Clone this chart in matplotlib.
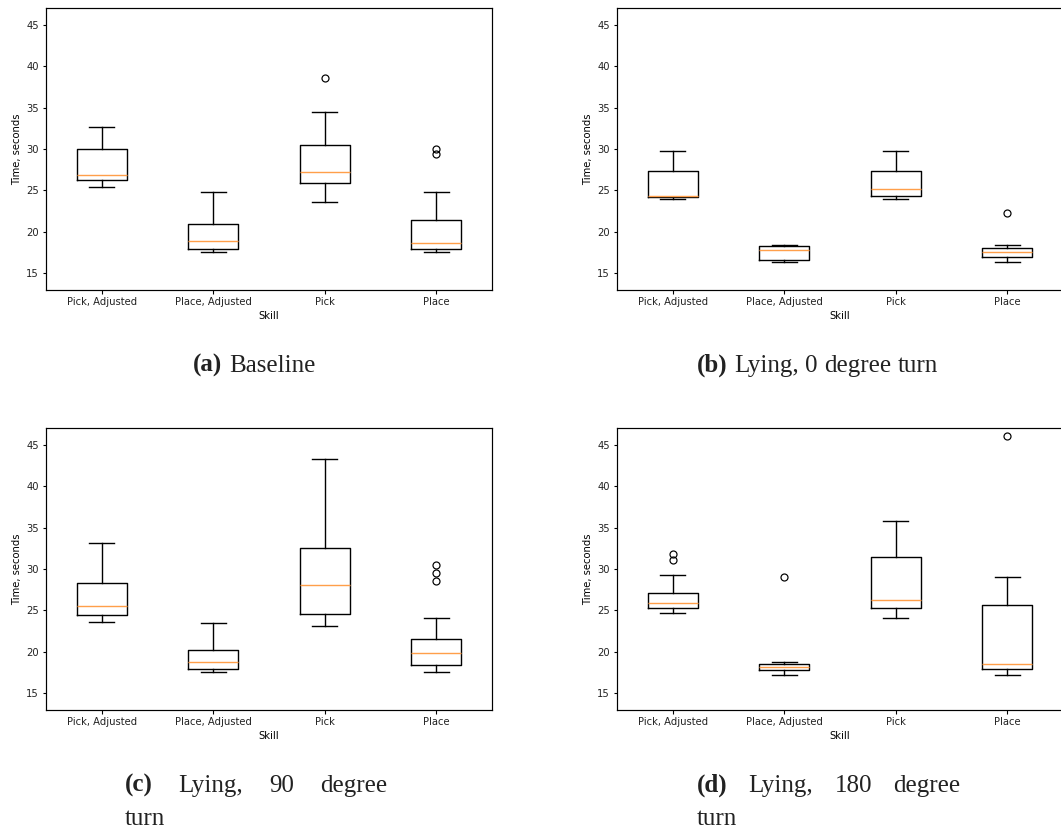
import matplotlib
matplotlib.use('Agg')
import matplotlib.pyplot as plt
from matplotlib.transforms import IdentityTransform

W, H = 1061, 831

skills = ['Pick, Adjusted', 'Place, Adjusted', 'Pick', 'Place']

# (a) Baseline
a_whislo = [25.39, 17.54, 23.54, 17.54]
a_q1 = [26.24, 17.98, 25.91, 17.90]
a_med = [26.88, 18.95, 27.20, 18.62]
a_q3 = [30.02, 20.92, 30.47, 21.40]
a_whishi = [32.64, 24.75, 34.49, 24.75]
a_fliers = [[], [], [38.52], [30.02, 29.42]]

# (b) Lying, 0 degree turn
b_whislo = [23.94, 16.33, 23.94, 16.33]
b_q1 = [24.22, 16.65, 24.30, 16.93]
b_med = [24.38, 17.86, 25.19, 17.58]
b_q3 = [27.28, 18.26, 27.28, 18.02]
b_whishi = [29.78, 18.46, 29.78, 18.46]
b_fliers = [[], [], [], [22.25]]

# (c) Lying, 90 degree turn
c_whislo = [23.58, 17.54, 23.10, 17.54]
c_q1 = [24.46, 17.94, 24.55, 18.38]
c_med = [25.55, 18.83, 28.05, 19.87]
c_q3 = [28.25, 20.28, 32.52, 21.56]
c_whishi = [33.08, 23.42, 43.27, 24.14]
c_fliers = [[], [], [], [30.5, 29.5, 28.6]]

# (d) Lying, 180 degree turn
d_whislo = [24.63, 17.17, 24.14, 17.17]
d_q1 = [25.31, 17.78, 25.27, 17.94]
d_med = [25.87, 18.18, 26.24, 18.54]
d_q3 = [27.12, 18.58, 31.39, 25.71]
d_whishi = [29.26, 18.79, 35.78, 28.97]
d_fliers = [[31.75, 31.07], [28.97], [], [46.05]]


def make_stats(whislo, q1, med, q3, whishi, fliers):
    stats = []
    for i in range(len(skills)):
        stats.append({'label': skills[i], 'whislo': whislo[i], 'q1': q1[i],
                      'med': med[i], 'q3': q3[i], 'whishi': whishi[i],
                      'fliers': fliers[i]})
    return stats


plt.rcParams['axes.linewidth'] = 1.2
plt.rcParams['xtick.major.width'] = 1.1
plt.rcParams['ytick.major.width'] = 1.1
plt.rcParams['text.color'] = '#222222'
plt.rcParams['xtick.labelcolor'] = '#222222'
plt.rcParams['ytick.labelcolor'] = '#222222'

fig = plt.figure(figsize=(W / 72, H / 72), dpi=72)

lw = 1.4


def panel(left, top, stats):
    ax = fig.add_axes([left / W, 1 - (top + 282) / H, 446 / W, 282 / H])
    ax.bxp(stats,
           boxprops=dict(linewidth=lw),
           whiskerprops=dict(linewidth=lw),
           capprops=dict(linewidth=lw),
           medianprops=dict(linewidth=lw, color='#ff9f4a'),
           flierprops=dict(markeredgewidth=1.2, markersize=7))
    ax.set_xlim(0.5, 4.5)
    ax.set_ylim(12.98, 47.01)
    ax.set_xlabel('Skill')
    ax.set_ylabel('Time, seconds')
    return ax


panel(46, 8, make_stats(a_whislo, a_q1, a_med, a_q3, a_whishi, a_fliers))
panel(617, 8, make_stats(b_whislo, b_q1, b_med, b_q3, b_whishi, b_fliers))
panel(46, 428, make_stats(c_whislo, c_q1, c_med, c_q3, c_whishi, c_fliers))
panel(617, 428, make_stats(d_whislo, d_q1, d_med, d_q3, d_whishi, d_fliers))

renderer = fig.canvas.get_renderer()
serif = 'Liberation Serif'
csize = 25


def caption(x, y, tag, words, right=None):
    # y is the baseline in image pixels (from the top)
    items = []
    t = fig.text(x, H - y, tag, transform=IdentityTransform(), family=serif,
                 fontweight='bold', fontsize=csize, va='baseline')
    items.append(t)
    for w in words:
        items.append(fig.text(x, H - y, w, transform=IdentityTransform(),
                              family=serif, fontsize=csize, va='baseline'))
    widths = [it.get_window_extent(renderer).width for it in items]
    if right is None:
        gap = csize * 0.26
    else:
        gap = (right - x - sum(widths)) / (len(items) - 1)
    cur = x
    for it, w in zip(items, widths):
        it.set_x(cur)
        cur += w + gap


def plain(x, y, s):
    fig.text(x, H - y, s, transform=IdentityTransform(), family=serif,
             fontsize=csize, va='baseline')


caption(193, 372, '(a)', ['Baseline'])
caption(697, 372, '(b)', ['Lying,', '0', 'degree', 'turn'])
caption(125, 792, '(c)', ['Lying,', '90', 'degree'], right=387)
plain(125, 825, 'turn')
caption(697, 792, '(d)', ['Lying,', '180', 'degree'], right=960)
plain(697, 825, 'turn')

fig.savefig('out.png', dpi=72)
